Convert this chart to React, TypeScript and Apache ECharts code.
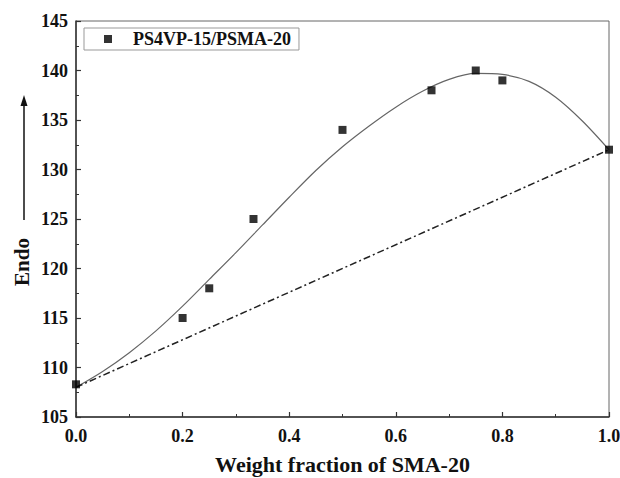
import React, { useEffect, useRef } from "react";
import * as echarts from "echarts";

const seriesName = "PS4VP-15/PSMA-20";
const pointX = [0, 0.2, 0.25, 0.333, 0.5, 0.667, 0.75, 0.8, 1.0];
const pointY = [108.3, 115, 118, 125, 134, 138, 140, 139, 132];
const fitX = [0, 0.05, 0.1, 0.15, 0.2, 0.25, 0.3, 0.35, 0.4, 0.45, 0.5, 0.55, 0.6, 0.65, 0.7, 0.75, 0.8, 0.85, 0.9, 0.95, 1.0];
const fitY = [108.0, 109.6, 111.5, 113.7, 116.2, 118.9, 121.6, 124.4, 127.2, 129.9, 132.3, 134.4, 136.3, 137.9, 139.1, 139.7, 139.6, 138.9, 137.3, 134.9, 132.0];
const additiveX = [0, 1];
const additiveY = [108, 132];
const xTitle = "Weight fraction of SMA-20";
const yTitle = "Endo";

const FONT = "'Liberation Serif', 'Times New Roman', serif";

export default function App() {
  const ref = useRef<HTMLDivElement>(null);
  useEffect(() => {
    if (!ref.current) return;
    const chart = echarts.init(ref.current, null, { renderer: "svg" });
    chart.setOption({
      animation: false,
      backgroundColor: "#ffffff",
      grid: {
        left: 76,
        right: 11,
        top: 21,
        bottom: 61,
        show: true,
        borderColor: "#666",
        borderWidth: 1,
        containLabel: false,
        outerBoundsMode: "none",
      },
      legend: {
        left: 84,
        top: 28,
        data: [seriesName],
        icon: "rect",
        itemWidth: 8,
        itemHeight: 8,
        itemGap: 0,
        borderColor: "#999",
        borderWidth: 1,
        padding: [2, 8, 2, 20],
        textStyle: { fontFamily: FONT, fontWeight: "bold", fontSize: 18, color: "#111", padding: [0, 0, 0, 16] },
      },
      xAxis: {
        type: "value",
        min: 0,
        max: 1,
        interval: 0.2,
        name: xTitle,
        nameLocation: "middle",
        nameGap: 36,
        nameTextStyle: { fontFamily: FONT, fontWeight: "bold", fontSize: 22, color: "#111" },
        axisLine: { show: true, onZero: false, lineStyle: { color: "#333", width: 1.5 } },
        axisTick: { show: true, inside: true, length: 5, lineStyle: { color: "#333", width: 1.2 } },
        minorTick: { show: true, splitNumber: 2, length: 3, lineStyle: { color: "#333", width: 1 } },
        splitLine: { show: false },
        axisLabel: {
          fontFamily: FONT, fontWeight: "bold", fontSize: 18, color: "#111", margin: 10,
          formatter: (v: number) => v.toFixed(1),
        },
      },
      yAxis: {
        type: "value",
        min: 105,
        max: 145,
        interval: 5,
        axisLine: { show: true, onZero: false, lineStyle: { color: "#333", width: 1.5 } },
        axisTick: { show: true, inside: true, length: 5, lineStyle: { color: "#333", width: 1.2 } },
        minorTick: { show: true, splitNumber: 2, length: 3, lineStyle: { color: "#333", width: 1 } },
        splitLine: { show: false },
        axisLabel: { fontFamily: FONT, fontWeight: "bold", fontSize: 18, color: "#111", margin: 8 },
      },
      graphic: [
        {
          type: "text",
          x: 22,
          y: 262,
          rotation: Math.PI / 2,
          style: {
            text: yTitle,
            fontFamily: FONT,
            fontWeight: "bold",
            fontSize: 21,
            fill: "#111",
            align: "center",
            verticalAlign: "middle",
          },
        },
        { type: "line", shape: { x1: 24, y1: 220, x2: 24, y2: 104 }, style: { stroke: "#111", lineWidth: 1.5 } },
        { type: "polygon", shape: { points: [[24, 95], [20.5, 106], [27.5, 106]] }, style: { fill: "#111" } },
      ],
      series: [
        {
          name: "fit",
          type: "line",
          smooth: 0.3,
          showSymbol: false,
          symbol: "none",
          data: fitX.map((x, i) => [x, fitY[i]]),
          lineStyle: { color: "#666", width: 1.2 },
          z: 2,
        },
        {
          name: "additive",
          type: "line",
          showSymbol: false,
          symbol: "none",
          data: additiveX.map((x, i) => [x, additiveY[i]]),
          lineStyle: { color: "#222", width: 1.5, type: [7, 3, 2, 3] },
          z: 2,
        },
        {
          name: seriesName,
          type: "scatter",
          symbol: "rect",
          symbolSize: 8,
          data: pointX.map((x, i) => [x, pointY[i]]),
          itemStyle: { color: "#000" },
          clip: false,
          z: 3,
        },
      ],
    });
    return () => chart.dispose();
  }, []);
  return (
    <div
      ref={ref}
      style={{ position: "absolute", left: 0, top: 0, width: 620, height: 478, background: "#fff" }}
    />
  );
}
